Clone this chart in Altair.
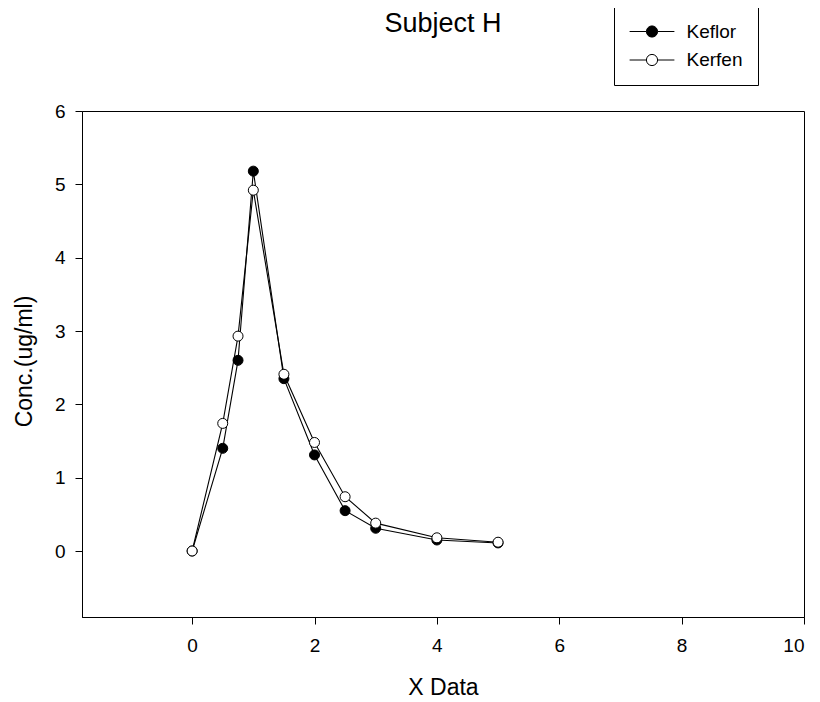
import altair as alt
import pandas as pd

time = [0, 0.5, 0.75, 1, 1.5, 2, 2.5, 3, 4, 5]
keflor = [0, 1.40, 2.60, 5.18, 2.35, 1.31, 0.55, 0.31, 0.15, 0.11]
kerfen = [0, 1.74, 2.93, 4.92, 2.41, 1.48, 0.74, 0.38, 0.18, 0.12]
series_names = ["Keflor", "Kerfen"]
x_ticks = [0, 2, 4, 6, 8, 10]
y_ticks = [0, 1, 2, 3, 4, 5, 6]

rows = []
for name, vals in zip(series_names, [keflor, kerfen]):
    for t, v in zip(time, vals):
        rows.append({"time": t, "conc": v, "series": name})
df = pd.DataFrame(rows)

FONT = "Liberation Sans"

x_enc = alt.X("time:Q", scale=alt.Scale(domain=[-1.8, 10], nice=False, zero=False),
              axis=alt.Axis(title="X Data", values=x_ticks, titleBaseline="alphabetic", titleY=77,
                            labelPadding=12))
y_enc = alt.Y("conc:Q", scale=alt.Scale(domain=[-0.9, 6], nice=False, zero=False),
              axis=alt.Axis(title="Conc.(ug/ml)", values=y_ticks, titleBaseline="alphabetic",
                            titleX=-51, titleY=250, labelPadding=10))

legend_path = "M-3.2,0H-0.8M0.8,0H3.2M-0.8,0A0.8,0.8,0,1,1,0.8,0A0.8,0.8,0,1,1,-0.8,0Z"

lines = alt.Chart(df).mark_line(color="black", strokeWidth=1.1).encode(
    x=x_enc, y=y_enc, detail="series:N", order="time:Q"
)

points = alt.Chart(df).mark_point(shape="circle", filled=True, size=100, stroke="black",
                                  strokeWidth=1, opacity=1).encode(
    x=x_enc, y=y_enc,
    fill=alt.Fill("series:N", scale=alt.Scale(domain=series_names, range=["black", "white"]),
                  legend=alt.Legend(title=None, orient="none", legendX=532, legendY=-104,
                                    symbolType=legend_path, symbolSize=196,
                                    symbolStrokeColor="black", symbolStrokeWidth=1,
                                    symbolOffset=13.5, labelOffset=25,
                                    labelFont=FONT, labelFontSize=19, labelColor="black",
                                    padding=15, rowPadding=8.5,
                                    strokeColor="black", fillColor="white")),
)

chart = alt.layer(lines, points).properties(
    width=722, height=506,
    background="white",
    title=alt.Title("Subject H", font=FONT, fontSize=27, fontWeight="normal", color="black",
                    frame="group", anchor="middle", baseline="alphabetic", offset=0, dy=52),
    autosize=alt.AutoSizeParams(type="none"),
    padding={"left": 74, "top": 103, "right": 8, "bottom": 82},
).configure_view(
    stroke="black", strokeWidth=1
).configure_axis(
    labelFont=FONT, labelFontSize=19, labelColor="black",
    titleFont=FONT, titleFontSize=23, titleFontWeight="normal", titleColor="black",
    domainColor="black", domainWidth=1, tickColor="black", tickSize=7, tickWidth=1,
    grid=False,
)

chart.save("out.html", embed_options={"renderer": "svg", "actions": False})
